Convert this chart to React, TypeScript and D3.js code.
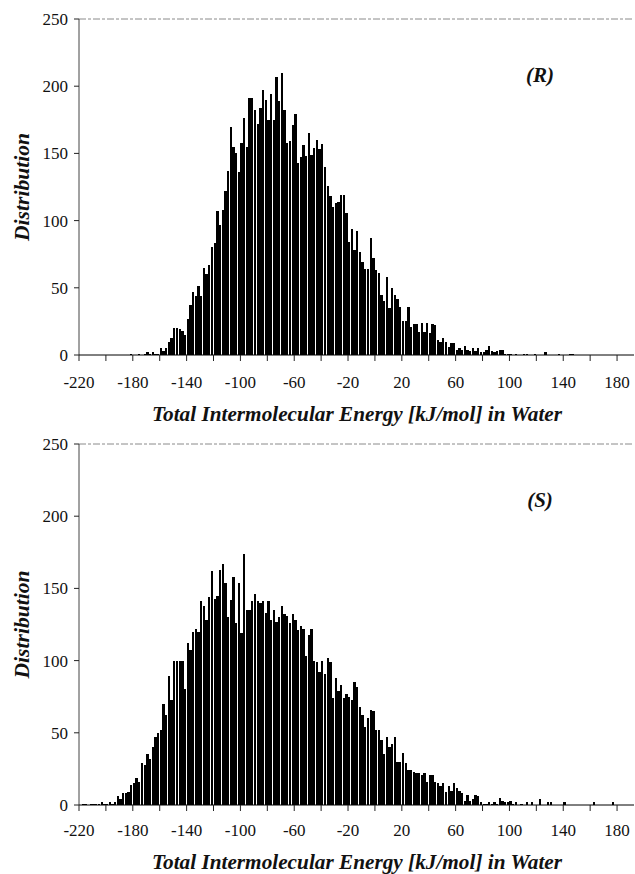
import React from "react";
import * as d3 from "d3";

// Histogram bins: 2 kJ/mol wide, first bin starts at -220 kJ/mol
const energyStart = -220;
const binWidth = 2;

// (R) enantiomer – counts per bin
const rCounts = [
  0, 0, 0, 0, 0, 0, 0, 0, 0, 0,
  0, 0, 0, 0, 0, 0, 0, 0, 0, 1,
  0, 0, 1, 0, 1, 2, 1, 2, 1, 1,
  5, 3, 5, 10, 13, 20, 20, 19, 18, 15,
  27, 37, 47, 44, 51, 44, 65, 60, 67, 80,
  83, 107, 97, 108, 122, 137, 170, 155, 150, 136,
  158, 176, 155, 191, 191, 182, 172, 184, 197, 190,
  175, 194, 175, 207, 189, 210, 182, 158, 159, 171,
  179, 143, 147, 156, 148, 165, 149, 154, 160, 153,
  157, 140, 126, 118, 110, 113, 114, 119, 119, 106,
  84, 94, 78, 92, 77, 69, 64, 64, 87, 72,
  63, 61, 45, 40, 58, 35, 50, 45, 42, 36,
  25, 25, 36, 21, 23, 23, 17, 24, 17, 24,
  16, 23, 22, 11, 10, 13, 10, 6, 9, 9,
  4, 5, 4, 7, 4, 3, 5, 3, 5, 2,
  2, 4, 7, 3, 2, 3, 4, 4, 1, 1,
  1, 0, 1, 0, 0, 1, 1, 0, 0, 1,
  0, 0, 0, 2, 0, 0, 0, 0, 1, 0,
  0, 0, 1, 1, 0, 0, 0, 0, 0, 0,
  0, 0, 0, 0, 0, 0, 0, 0, 0, 0,
  0, 0, 0, 0, 0, 0,
];

// (S) enantiomer – counts per bin
const sCounts = [
  0, 1, 1, 0, 1, 1, 1, 1, 2, 1,
  1, 2, 1, 2, 6, 4, 8, 8, 9, 14,
  15, 19, 16, 29, 28, 35, 32, 40, 47, 50,
  52, 70, 62, 89, 73, 100, 100, 100, 100, 80,
  112, 107, 120, 122, 120, 141, 138, 128, 144, 162,
  143, 145, 163, 167, 154, 130, 142, 158, 126, 154,
  119, 174, 135, 135, 141, 146, 141, 140, 141, 133,
  141, 128, 135, 127, 130, 138, 132, 131, 126, 132,
  128, 121, 124, 122, 103, 118, 122, 100, 99, 92,
  100, 91, 102, 99, 74, 88, 79, 83, 74, 77,
  75, 73, 85, 82, 68, 62, 54, 60, 66, 65,
  52, 52, 45, 35, 47, 40, 42, 47, 30, 30,
  36, 29, 24, 24, 23, 22, 22, 21, 22, 16,
  21, 21, 16, 15, 13, 15, 9, 13, 10, 15,
  12, 10, 8, 3, 7, 3, 4, 7, 6, 2,
  1, 1, 2, 1, 2, 1, 5, 3, 2, 2,
  3, 1, 2, 0, 1, 0, 2, 0, 2, 0,
  0, 4, 0, 0, 2, 2, 0, 0, 0, 0,
  2, 0, 0, 0, 0, 0, 0, 0, 0, 0,
  0, 2, 0, 0, 0, 0, 0, 0, 2, 0,
  0, 0, 0, 0, 0, 0,
];

const xTickMarks = [-220, -200, -180, -160, -140, -120, -100, -80, -60, -40, -20, 0, 20, 40, 60, 80, 100, 120, 140, 160, 180];
const xTickLabels = [-220, -180, -140, -100, -60, -20, 20, 60, 100, 140, 180];
const yTicks = [0, 50, 100, 150, 200, 250];
const xTitle = "Total Intermolecular Energy [kJ/mol] in Water";
const yTitle = "Distribution";

const serif = "'Liberation Serif', 'Times New Roman', serif";

type PanelProps = {
  counts: number[];
  label: string;
  top: number;
  bottom: number;
  tickBaseline: number;
  titleBaseline: number;
};

function Panel({ counts, label, top, bottom, tickBaseline, titleBaseline }: PanelProps) {
  const left = 79;
  const right = 634;
  const x = d3.scaleLinear().domain([-220, 192.6]).range([left, right]);
  const y = d3.scaleLinear().domain([0, 250]).range([bottom, top]);
  const bw = x(energyStart + binWidth) - x(energyStart);

  return (
    <g>
      {/* top border (gridline at 250) */}
      <line x1={left} x2={right} y1={y(250)} y2={y(250)} stroke="#8a8a8a" strokeWidth={1} strokeDasharray="7 2 3 2" />
      {/* bars */}
      <g shapeRendering="crispEdges">
        {counts.map((c, i) =>
          c > 0 ? (
            <rect
              key={i}
              x={x(energyStart + i * binWidth)}
              y={y(c)}
              width={bw * 0.86}
              height={y(0) - y(c)}
              fill="#000"
            />
          ) : null
        )}
      </g>
      {/* y axis */}
      <line x1={left} x2={left} y1={top} y2={bottom} stroke="#444" strokeWidth={1} />
      {yTicks.map((t) => (
        <g key={t}>
          <line x1={left - 5} x2={left} y1={y(t)} y2={y(t)} stroke="#222" strokeWidth={1} />
          <text x={68} y={y(t)} dy="0.35em" textAnchor="end" fontFamily={serif} fontSize={17} fill="#111">
            {t}
          </text>
        </g>
      ))}
      {/* x axis */}
      <line x1={left} x2={right} y1={bottom} y2={bottom} stroke="#000" strokeWidth={1} />
      {xTickMarks.map((t) => (
        <line key={t} x1={x(t)} x2={x(t)} y1={bottom} y2={bottom + 6} stroke="#222" strokeWidth={1} />
      ))}
      {xTickLabels.map((t) => (
        <text key={t} x={x(t)} y={tickBaseline} textAnchor="middle" fontFamily={serif} fontSize={17} fill="#111">
          {t}
        </text>
      ))}
      {/* axis titles */}
      <text
        x={357}
        y={titleBaseline}
        textAnchor="middle"
        fontFamily={serif}
        fontSize={21}
        fontWeight="bold"
        fontStyle="italic"
        fill="#111"
        textLength={410}
        lengthAdjust="spacingAndGlyphs"
      >
        {xTitle}
      </text>
      <text
        transform={`translate(29, ${(top + bottom) / 2}) rotate(-90)`}
        textAnchor="middle"
        fontFamily={serif}
        fontSize={21}
        fontWeight="bold"
        fontStyle="italic"
        fill="#111"
        textLength={108}
        lengthAdjust="spacingAndGlyphs"
      >
        {yTitle}
      </text>
      <text
        x={540}
        y={top + 63}
        textAnchor="middle"
        fontFamily={serif}
        fontSize={21}
        fontWeight="bold"
        fontStyle="italic"
        fill="#111"
      >
        {label}
      </text>
    </g>
  );
}

export default function App() {
  return (
    <svg
      width={635}
      height={874}
      viewBox="0 0 635 874"
      style={{ position: "absolute", left: 0, top: 0, display: "block", background: "#fff" }}
    >
      <rect width={635} height={874} fill="#fff" />
      <Panel counts={rCounts} label="(R)" top={19} bottom={355} tickBaseline={388} titleBaseline={421} />
      <Panel counts={sCounts} label="(S)" top={444} bottom={805} tickBaseline={836} titleBaseline={869} />
    </svg>
  );
}
